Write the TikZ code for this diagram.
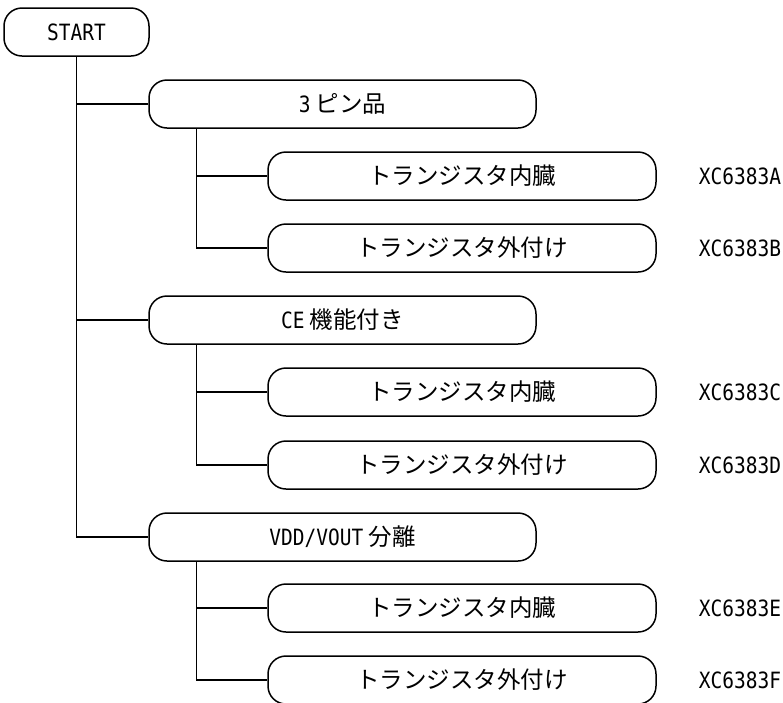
\documentclass[tikz,border=0pt]{standalone}
\usepackage{fontspec}
\usepackage{graphicx}
\setmainfont{Noto Sans CJK JP}
\newfontfamily\latfont{DejaVu Sans Mono}
\newcommand\latn[1]{{\latfont\fontsize{19.5pt}{20pt}\selectfont\scalebox{1}[1.15]{#1}}}
\begin{document}
\begin{tikzpicture}[x=1pt,y=-1pt,
  term/.style={draw, line width=1.5pt, rectangle, rounded corners=18pt, minimum height=48pt, inner sep=0pt,
    font=\fontsize{23.5pt}{25pt}\selectfont},
  lvlone/.style={term, minimum width=387pt},
  lvltwo/.style={term, minimum width=388pt},
  conn/.style={line width=1.5pt},
  lbl/.style={anchor=west, inner sep=0pt}]
\useasboundingbox (0,0) rectangle (783,702);

\node[term, minimum width=145pt] (start) at (76.5,32) {\latn{START}};

\node[lvlone] (p3) at (342.5,104) {\latn{3} ピン品};
\node[lvlone] (ce) at (342.5,320) {\latn{CE} 機能付き};
\node[lvlone] (vd) at (342.5,537) {\latn{VDD/VOUT} 分離};

\node[lvltwo] (a) at (462,176) {トランジスタ内臓};
\node[lvltwo] (b) at (462,248) {トランジスタ外付け};
\node[lvltwo] (c) at (462,392) {トランジスタ内臓};
\node[lvltwo] (d) at (462,465) {トランジスタ外付け};
\node[lvltwo] (e) at (462,608) {トランジスタ内臓};
\node[lvltwo] (f) at (462,680) {トランジスタ外付け};

\node[lbl] (xa) at ([xshift=42pt]a.east) {\latn{XC6383A}};
\node[lbl] (xb) at ([xshift=42pt]b.east) {\latn{XC6383B}};
\node[lbl] (xc) at ([xshift=42pt]c.east) {\latn{XC6383C}};
\node[lbl] (xd) at ([xshift=42pt]d.east) {\latn{XC6383D}};
\node[lbl] (xe) at ([xshift=42pt]e.east) {\latn{XC6383E}};
\node[lbl] (xf) at ([xshift=42pt]f.east) {\latn{XC6383F}};

% main trunk
\draw[conn] (start.south) |- (vd.west);
\draw[conn] (start.south |- p3.west) -- (p3.west);
\draw[conn] (start.south |- ce.west) -- (ce.west);

% sub trunks
\coordinate (jp) at ([xshift=48pt]p3.south west);
\coordinate (jc) at ([xshift=48pt]ce.south west);
\coordinate (jv) at ([xshift=48pt]vd.south west);
\draw[conn] (jp) |- (b.west);
\draw[conn] (jp |- a.west) -- (a.west);
\draw[conn] (jc) |- (d.west);
\draw[conn] (jc |- c.west) -- (c.west);
\draw[conn] (jv) |- (f.west);
\draw[conn] (jv |- e.west) -- (e.west);
\end{tikzpicture}
\end{document}
